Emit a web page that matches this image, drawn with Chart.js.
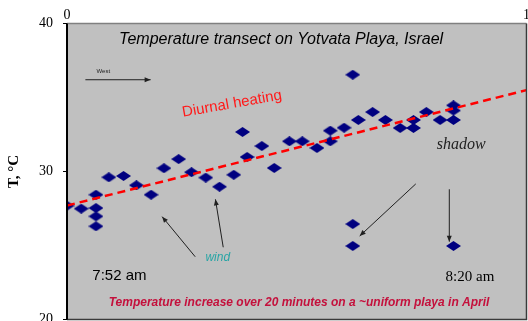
<!DOCTYPE html>
<html>
<head>
<meta charset="utf-8">
<script src="https://cdn.jsdelivr.net/npm/chart.js@4"></script>
<style>
    html, body { margin: 0; padding: 0; background: #ffffff; }
    #wrap { width: 528px; height: 321px; position: relative; }
</style>
</head>
<body>
<div id="wrap"><canvas id="transect-chart"></canvas></div>
<script>
// position along the transect (0..1) and measured temperature
const transectX = [
    0, 0.031, 0.063, 0.063, 0.063, 0.063, 0.091, 0.123, 0.151, 0.183,
    0.211, 0.243, 0.271, 0.302, 0.332, 0.363, 0.382, 0.392, 0.424, 0.451,
    0.484, 0.512, 0.544, 0.573, 0.573, 0.603, 0.622, 0.622, 0.622, 0.634,
    0.665, 0.693, 0.725, 0.754, 0.754, 0.782, 0.812, 0.841, 0.841, 0.841, 0.841
];
const tempC = [
    27.69, 27.49, 28.43, 27.53, 26.97, 26.30, 29.61, 29.70, 29.07, 28.43,
    30.22, 30.84, 29.95, 29.59, 28.97, 29.78, 32.67, 30.98, 31.72, 30.24,
    32.04, 32.04, 31.59, 32.76, 32.04, 32.96, 36.54, 26.45, 24.97, 33.48,
    34.02, 33.48, 32.94, 33.48, 32.94, 34.02, 33.48, 34.47, 34.12, 33.48, 24.97
];

// diurnal heating trend
const trendX = [0, 1];
const trendT = [27.7, 35.5];

const yTicks = [20, 30, 40];
const xTicks = [0, 1];

// text notes, placed in data units
const notes = [
    { text: "Temperature transect on Yotvata Playa, Israel", x: 0.466, y: 38.89, font: "italic 16px 'Liberation Sans'", color: "#000000" },
    { text: "West", x: 0.079, y: 36.8, font: "6px 'Liberation Sans'", color: "#222222" },
    { text: "Diurnal heating", x: 0.359, y: 34.56, font: "15px 'Liberation Sans'", color: "#ff1a1a", angle: -10 },
    { text: "shadow", x: 0.858, y: 31.79, font: "italic 16px 'Liberation Serif'", color: "#222222" },
    { text: "wind", x: 0.328, y: 24.18, font: "italic 12px 'Liberation Sans'", color: "#2aa5a5" },
    { text: "7:52 am", x: 0.114, y: 22.94, font: "15px 'Liberation Sans'", color: "#000000" },
    { text: "8:20 am", x: 0.877, y: 22.85, font: "15px 'Liberation Serif'", color: "#000000" },
    { text: "Temperature increase over 20 minutes on a ~uniform playa in April", x: 0.505, y: 21.14, font: "italic bold 12px 'Liberation Sans'", color: "#c4103c" }
];

const arrows = [
    { x1: 0.040, y1: 36.20, x2: 0.182, y2: 36.20 },
    { x1: 0.279, y1: 24.24, x2: 0.207, y2: 26.95 },
    { x1: 0.340, y1: 24.88, x2: 0.323, y2: 28.12 },
    { x1: 0.759, y1: 29.16, x2: 0.637, y2: 25.64 },
    { x1: 0.832, y1: 28.80, x2: 0.832, y2: 25.26 }
];

// flattened navy diamond marker
function diamond(w, h) {
    const c = document.createElement("canvas");
    c.width = w;
    c.height = h;
    const g = c.getContext("2d");
    g.fillStyle = "#000080";
    g.beginPath();
    g.moveTo(w / 2, 0);
    g.lineTo(w, h / 2);
    g.lineTo(w / 2, h);
    g.lineTo(0, h / 2);
    g.closePath();
    g.fill();
    return c;
}

const plotFrame = {
    id: "plotFrame",
    beforeDraw(chart) {
        const { ctx, chartArea: a } = chart;
        ctx.save();
        ctx.fillStyle = "#c0c0c0";
        ctx.fillRect(a.left, a.top, a.right - a.left, a.bottom - a.top);
        ctx.restore();
    },
    afterDraw(chart) {
        const { ctx, chartArea: a } = chart;
        ctx.save();
        ctx.lineWidth = 1.5;
        ctx.strokeStyle = "#808080";
        ctx.beginPath();
        ctx.moveTo(a.left, a.top);
        ctx.lineTo(a.right, a.top);
        ctx.stroke();
        ctx.strokeStyle = "#3a3a3a";
        ctx.beginPath();
        ctx.moveTo(a.right, a.top);
        ctx.lineTo(a.right, a.bottom);
        ctx.lineTo(a.left, a.bottom);
        ctx.stroke();
        ctx.strokeStyle = "#000000";
        ctx.lineWidth = 2;
        ctx.beginPath();
        ctx.moveTo(a.left, a.top);
        ctx.lineTo(a.left, a.bottom);
        ctx.stroke();
        ctx.restore();
    }
};

const notesLayer = {
    id: "notesLayer",
    afterDatasetsDraw(chart) {
        const { ctx, scales } = chart;
        const px = (v) => scales.x.getPixelForValue(v);
        const py = (v) => scales.y.getPixelForValue(v);
        ctx.save();

        ctx.strokeStyle = "#202020";
        ctx.fillStyle = "#202020";
        ctx.lineWidth = 1;
        arrows.forEach((a) => {
            const x1 = px(a.x1), y1 = py(a.y1), x2 = px(a.x2), y2 = py(a.y2);
            const ang = Math.atan2(y2 - y1, x2 - x1);
            ctx.beginPath();
            ctx.moveTo(x1, y1);
            ctx.lineTo(x2, y2);
            ctx.stroke();
            ctx.beginPath();
            ctx.moveTo(x2, y2);
            ctx.lineTo(x2 - 6 * Math.cos(ang) + 2.5 * Math.sin(ang), y2 - 6 * Math.sin(ang) - 2.5 * Math.cos(ang));
            ctx.lineTo(x2 - 6 * Math.cos(ang) - 2.5 * Math.sin(ang), y2 - 6 * Math.sin(ang) + 2.5 * Math.cos(ang));
            ctx.closePath();
            ctx.fill();
        });

        ctx.textAlign = "center";
        ctx.textBaseline = "middle";
        notes.forEach((n) => {
            ctx.save();
            ctx.translate(px(n.x), py(n.y));
            if (n.angle) ctx.rotate(n.angle * Math.PI / 180);
            ctx.font = n.font;
            ctx.fillStyle = n.color;
            ctx.fillText(n.text, 0, 0);
            ctx.restore();
        });
        ctx.restore();
    }
};

const zeroPad = (scale) => {
    scale.paddingLeft = 0;
    scale.paddingRight = 0;
    scale.paddingTop = 0;
    scale.paddingBottom = 0;
};

new Chart(document.getElementById("transect-chart"), {
    type: "scatter",
    data: {
        datasets: [
            {
                type: "line",
                data: trendX.map((x, i) => ({ x, y: trendT[i] })),
                borderColor: "#ff0000",
                borderWidth: 2.5,
                borderDash: [8, 5],
                pointRadius: 0,
                fill: false,
                order: 0
            },
            {
                data: transectX.map((x, i) => ({ x, y: tempC[i] })),
                pointStyle: diamond(15, 10),
                pointRadius: 7,
                order: 1
            }
        ]
    },
    options: {
        responsive: true,
        maintainAspectRatio: false,
        animation: false,
        layout: {
            autoPadding: false,
            padding: { left: 0, right: 1.5, top: 0, bottom: 1.5 }
        },
        plugins: {
            legend: { display: false },
            tooltip: { enabled: false }
        },
        scales: {
            x: {
                type: "linear",
                position: "top",
                min: 0,
                max: 1,
                afterBuildTicks: (s) => { s.ticks = xTicks.map((v) => ({ value: v })); },
                afterFit: (s) => { s.height = 23.5; zeroPad(s); },
                ticks: {
                    color: "#000000",
                    padding: 0,
                    font: { family: "'Liberation Serif'", size: 14 }
                },
                grid: { display: true, drawOnChartArea: false, drawTicks: false },
                border: { display: false }
            },
            y: {
                type: "linear",
                position: "left",
                min: 20,
                max: 40,
                afterBuildTicks: (s) => { s.ticks = yTicks.map((v) => ({ value: v })); },
                afterFit: (s) => { s.width = 67; zeroPad(s); },
                ticks: {
                    color: "#000000",
                    padding: 10,
                    font: { family: "'Liberation Serif'", size: 14 }
                },
                grid: { drawOnChartArea: false, drawTicks: true, tickLength: 4, color: "#000000" },
                border: { display: false },
                title: {
                    display: true,
                    text: "T, °C",
                    color: "#000000",
                    padding: { top: 5, bottom: 0 },
                    font: { family: "'Liberation Serif'", size: 15, weight: "bold" }
                }
            }
        }
    },
    plugins: [plotFrame, notesLayer]
});
</script>
</body>
</html>
